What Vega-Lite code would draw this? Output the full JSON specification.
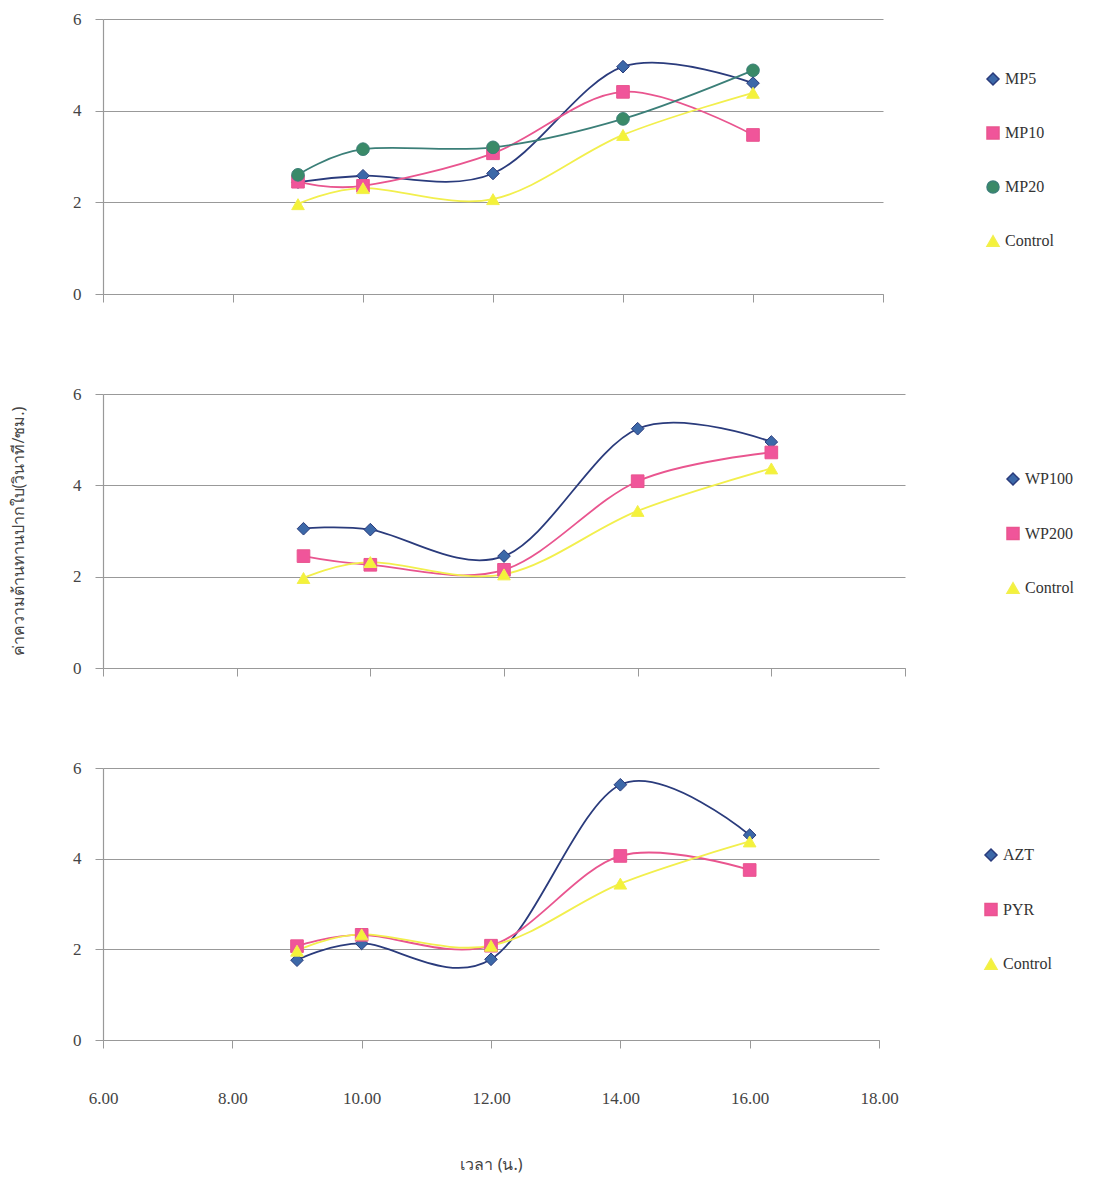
{
  "$schema": "https://vega.github.io/schema/vega-lite/v6.json",
  "padding": {"top": 10, "left": 10, "right": 5, "bottom": 5},
  "background": "white",
  "spacing": 82,
  "datasets": {
    "d": [
      {"panel": "A", "series": "MP5", "time": 9, "value": 2.44},
      {"panel": "A", "series": "MP5", "time": 10, "value": 2.58},
      {"panel": "A", "series": "MP5", "time": 12, "value": 2.63},
      {"panel": "A", "series": "MP5", "time": 14, "value": 4.96},
      {"panel": "A", "series": "MP5", "time": 16, "value": 4.6},
      {"panel": "A", "series": "MP10", "time": 9, "value": 2.45},
      {"panel": "A", "series": "MP10", "time": 10, "value": 2.36},
      {"panel": "A", "series": "MP10", "time": 12, "value": 3.07},
      {"panel": "A", "series": "MP10", "time": 14, "value": 4.41},
      {"panel": "A", "series": "MP10", "time": 16, "value": 3.47},
      {"panel": "A", "series": "MP20", "time": 9, "value": 2.6},
      {"panel": "A", "series": "MP20", "time": 10, "value": 3.16},
      {"panel": "A", "series": "MP20", "time": 12, "value": 3.2},
      {"panel": "A", "series": "MP20", "time": 14, "value": 3.82},
      {"panel": "A", "series": "MP20", "time": 16, "value": 4.88},
      {"panel": "A", "series": "Control", "time": 9, "value": 1.96},
      {"panel": "A", "series": "Control", "time": 10, "value": 2.31},
      {"panel": "A", "series": "Control", "time": 12, "value": 2.07},
      {"panel": "A", "series": "Control", "time": 14, "value": 3.47},
      {"panel": "A", "series": "Control", "time": 16, "value": 4.39},
      {"panel": "B", "series": "WP100", "time": 9, "value": 3.05},
      {"panel": "B", "series": "WP100", "time": 10, "value": 3.03},
      {"panel": "B", "series": "WP100", "time": 12, "value": 2.45},
      {"panel": "B", "series": "WP100", "time": 14, "value": 5.24},
      {"panel": "B", "series": "WP100", "time": 16, "value": 4.95},
      {"panel": "B", "series": "WP200", "time": 9, "value": 2.45},
      {"panel": "B", "series": "WP200", "time": 10, "value": 2.26},
      {"panel": "B", "series": "WP200", "time": 12, "value": 2.15},
      {"panel": "B", "series": "WP200", "time": 14, "value": 4.09},
      {"panel": "B", "series": "WP200", "time": 16, "value": 4.72},
      {"panel": "B", "series": "Control", "time": 9, "value": 1.97},
      {"panel": "B", "series": "Control", "time": 10, "value": 2.32},
      {"panel": "B", "series": "Control", "time": 12, "value": 2.05},
      {"panel": "B", "series": "Control", "time": 14, "value": 3.44},
      {"panel": "B", "series": "Control", "time": 16, "value": 4.37},
      {"panel": "C", "series": "AZT", "time": 9, "value": 1.76},
      {"panel": "C", "series": "AZT", "time": 10, "value": 2.13},
      {"panel": "C", "series": "AZT", "time": 12, "value": 1.78},
      {"panel": "C", "series": "AZT", "time": 14, "value": 5.63},
      {"panel": "C", "series": "AZT", "time": 16, "value": 4.52},
      {"panel": "C", "series": "PYR", "time": 9, "value": 2.07},
      {"panel": "C", "series": "PYR", "time": 10, "value": 2.32},
      {"panel": "C", "series": "PYR", "time": 12, "value": 2.08},
      {"panel": "C", "series": "PYR", "time": 14, "value": 4.06},
      {"panel": "C", "series": "PYR", "time": 16, "value": 3.75},
      {"panel": "C", "series": "Control", "time": 9, "value": 1.97},
      {"panel": "C", "series": "Control", "time": 10, "value": 2.33},
      {"panel": "C", "series": "Control", "time": 12, "value": 2.08},
      {"panel": "C", "series": "Control", "time": 14, "value": 3.45},
      {"panel": "C", "series": "Control", "time": 16, "value": 4.38}
    ]
  },
  "resolve": {"scale": {"fill": "independent", "stroke": "independent", "shape": "independent", "x": "independent", "y": "independent"}},
  "vconcat": [
    {
      "width": 780,
      "height": 275,
      "data": {"name": "d"},
      "transform": [{"filter": "datum.panel === 'A'"}],
      "encoding": {
        "x": {"field": "time", "type": "quantitative", "scale": {"domain": [6, 18], "nice": false, "zero": false},
              "axis": {"values": [6, 8, 10, 12, 14, 16, 18], "labels": false, "title": null, "grid": false, "tickSize": 8}},
        "y": {"field": "value", "type": "quantitative", "scale": {"domain": [0, 6], "nice": false},
              "axis": {"values": [0, 2, 4, 6], "title": null, "grid": true, "tickSize": 8, "labelPadding": 14}}
      },
      "layer": [
        {
          "mark": {"type": "line", "interpolate": "cardinal", "strokeWidth": 1.8},
          "encoding": {
            "stroke": {"field": "series", "type": "nominal",
                       "scale": {"domain": ["MP5", "MP10", "MP20", "Control"], "range": ["#2a3b7c", "#e9558f", "#3b7f78", "#f2ef4d"]},
                       "legend": {"title": null, "orient": "none", "legendX": 882, "legendY": 52, "rowPadding": 36, "symbolSize": 144, "labelOffset": 4}}
          }
        },
        {
          "mark": {"type": "point", "filled": true, "size": 160, "strokeWidth": 1, "opacity": 1},
          "encoding": {
            "fill": {"field": "series", "type": "nominal",
                     "scale": {"domain": ["MP5", "MP10", "MP20", "Control"], "range": ["#3c68a8", "#f0559a", "#3a8a68", "#f4f23a"]},
                     "legend": {"title": null, "orient": "none", "legendX": 882, "legendY": 52, "rowPadding": 36, "symbolSize": 144, "labelOffset": 4}},
            "stroke": {"field": "series", "type": "nominal",
                       "scale": {"domain": ["MP5", "MP10", "MP20", "Control"], "range": ["#2a3b7c", "#e9558f", "#2f6f60", "#f2ef4d"]}},
            "shape": {"field": "series", "type": "nominal",
                      "scale": {"domain": ["MP5", "MP10", "MP20", "Control"], "range": ["diamond", "square", "circle", "triangle-up"]}}
          }
        }
      ]
    },
    {
      "width": 802,
      "height": 274,
      "data": {"name": "d"},
      "transform": [{"filter": "datum.panel === 'B'"}],
      "encoding": {
        "x": {"field": "time", "type": "quantitative", "scale": {"domain": [6, 18], "nice": false, "zero": false},
              "axis": {"values": [6, 8, 10, 12, 14, 16, 18], "labels": false, "title": null, "grid": false, "tickSize": 8}},
        "y": {"field": "value", "type": "quantitative", "scale": {"domain": [0, 6], "nice": false},
              "axis": {"values": [0, 2, 4, 6], "title": "ค่าความต้านทานปากใบ(วินาที/ซม.)", "titlePadding": 46, "grid": true, "tickSize": 8, "labelPadding": 14}}
      },
      "layer": [
        {
          "mark": {"type": "line", "interpolate": "cardinal", "strokeWidth": 1.8},
          "encoding": {
            "stroke": {"field": "series", "type": "nominal",
                       "scale": {"domain": ["WP100", "WP200", "Control"], "range": ["#2a3b7c", "#e9558f", "#f2ef4d"]},
                       "legend": {"title": null, "orient": "none", "legendX": 902, "legendY": 77, "rowPadding": 36.5, "symbolSize": 144, "labelOffset": 4}}
          }
        },
        {
          "mark": {"type": "point", "filled": true, "size": 160, "strokeWidth": 1, "opacity": 1},
          "encoding": {
            "fill": {"field": "series", "type": "nominal",
                     "scale": {"domain": ["WP100", "WP200", "Control"], "range": ["#3c68a8", "#f0559a", "#f4f23a"]},
                     "legend": {"title": null, "orient": "none", "legendX": 902, "legendY": 77, "rowPadding": 36.5, "symbolSize": 144, "labelOffset": 4}},
            "stroke": {"field": "series", "type": "nominal",
                       "scale": {"domain": ["WP100", "WP200", "Control"], "range": ["#2a3b7c", "#e9558f", "#f2ef4d"]}},
            "shape": {"field": "series", "type": "nominal",
                      "scale": {"domain": ["WP100", "WP200", "Control"], "range": ["diamond", "square", "triangle-up"]}}
          }
        }
      ]
    },
    {
      "width": 776,
      "height": 272,
      "data": {"name": "d"},
      "transform": [{"filter": "datum.panel === 'C'"}],
      "encoding": {
        "x": {"field": "time", "type": "quantitative", "scale": {"domain": [6, 18], "nice": false, "zero": false},
              "axis": {"values": [6, 8, 10, 12, 14, 16, 18], "format": ".2f", "labelFlush": false, "title": "เวลา (น.)", "titlePadding": 50, "labelPadding": 42, "grid": false, "tickSize": 8}},
        "y": {"field": "value", "type": "quantitative", "scale": {"domain": [0, 6], "nice": false},
              "axis": {"values": [0, 2, 4, 6], "title": null, "grid": true, "tickSize": 8, "labelPadding": 14}}
      },
      "layer": [
        {
          "mark": {"type": "line", "interpolate": "cardinal", "strokeWidth": 1.8},
          "encoding": {
            "stroke": {"field": "series", "type": "nominal",
                       "scale": {"domain": ["AZT", "PYR", "Control"], "range": ["#2a3b7c", "#e9558f", "#f2ef4d"]},
                       "legend": {"title": null, "orient": "none", "legendX": 880, "legendY": 79, "rowPadding": 36.5, "symbolSize": 144, "labelOffset": 4}}
          }
        },
        {
          "mark": {"type": "point", "filled": true, "size": 160, "strokeWidth": 1, "opacity": 1},
          "encoding": {
            "fill": {"field": "series", "type": "nominal",
                     "scale": {"domain": ["AZT", "PYR", "Control"], "range": ["#3c68a8", "#f0559a", "#f4f23a"]},
                     "legend": {"title": null, "orient": "none", "legendX": 880, "legendY": 79, "rowPadding": 36.5, "symbolSize": 144, "labelOffset": 4}},
            "stroke": {"field": "series", "type": "nominal",
                       "scale": {"domain": ["AZT", "PYR", "Control"], "range": ["#2a3b7c", "#e9558f", "#f2ef4d"]}},
            "shape": {"field": "series", "type": "nominal",
                      "scale": {"domain": ["AZT", "PYR", "Control"], "range": ["diamond", "square", "triangle-up"]}}
          }
        }
      ]
    }
  ],
  "config": {
    "view": {"stroke": null},
    "axis": {
      "labelFont": "Liberation Serif", "labelFontSize": 17, "labelColor": "#444",
      "titleFont": "Noto Sans", "titleFontSize": 16, "titleFontWeight": "normal", "titleColor": "#444",
      "domainColor": "#999", "tickColor": "#999", "gridColor": "#999", "gridOpacity": 1, "domainWidth": 1.2, "gridWidth": 1.2
    },
    "legend": {"labelFont": "Liberation Serif", "labelFontSize": 16, "labelColor": "#333"}
  }
}
